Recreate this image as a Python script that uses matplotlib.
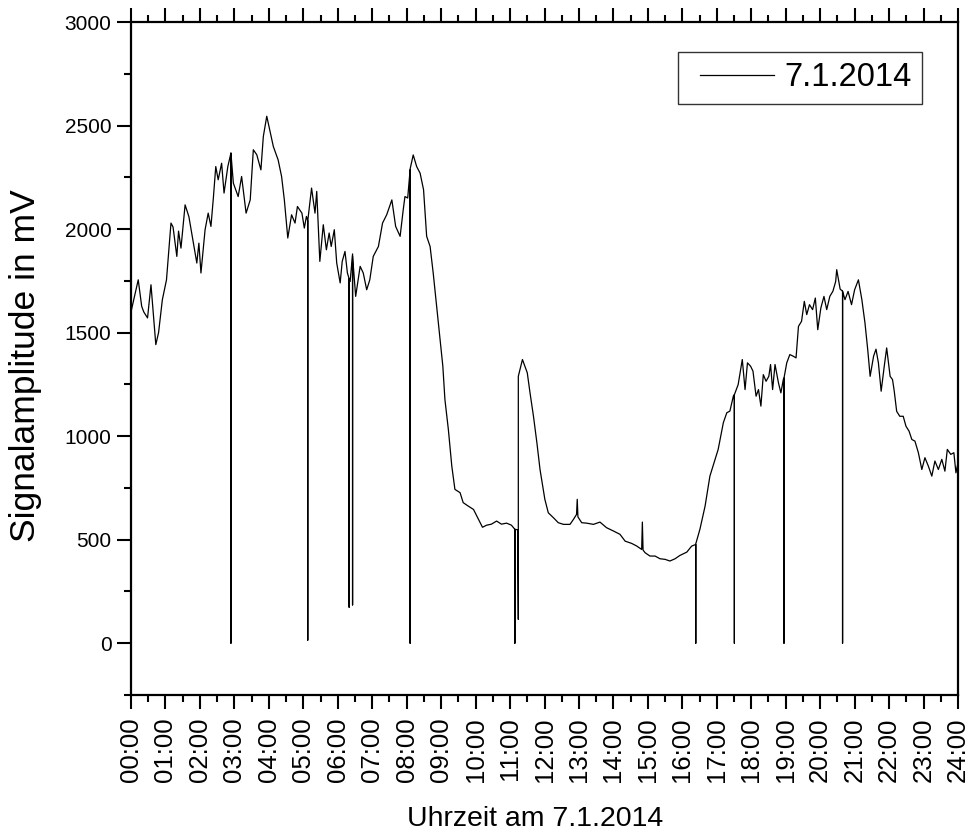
import matplotlib
matplotlib.use("Agg")
import numpy as np
import matplotlib.pyplot as plt
from matplotlib.ticker import MultipleLocator, FixedLocator, FixedFormatter
from matplotlib.legend_handler import HandlerLine2D

# time of day in hours, signal amplitude in mV (dropouts/spikes included inline)
hours = [
    0.00, 0.21, 0.31, 0.37, 0.48, 0.58, 0.72, 0.80, 0.91, 1.03,
    1.16, 1.22, 1.33, 1.38, 1.45, 1.57, 1.68, 1.76, 1.91, 1.97,
    2.03, 2.15, 2.24, 2.32, 2.39, 2.46, 2.53, 2.63, 2.70, 2.81,
    2.90, 2.90, 2.90, 2.97, 3.11, 3.21, 3.34, 3.46, 3.55, 3.65,
    3.77, 3.84, 3.94, 4.03, 4.13, 4.27, 4.37, 4.45, 4.55, 4.66,
    4.76, 4.83, 4.96, 5.03, 5.09, 5.13, 5.13, 5.13, 5.24, 5.34,
    5.39, 5.48, 5.58, 5.67, 5.75, 5.81, 5.90, 5.97, 6.07, 6.13,
    6.21, 6.28, 6.33, 6.33, 6.33, 6.36, 6.43, 6.43, 6.43, 6.52,
    6.65, 6.74, 6.84, 6.93, 7.03, 7.18, 7.30, 7.42, 7.57, 7.68,
    7.81, 7.90, 7.95, 8.03, 8.10, 8.10, 8.10, 8.19, 8.29, 8.39,
    8.49, 8.58, 8.68, 8.77, 8.87, 8.97, 9.05, 9.11, 9.21, 9.31,
    9.40, 9.55, 9.64, 9.78, 9.94, 10.08, 10.20, 10.32, 10.46, 10.61,
    10.75, 10.90, 11.04, 11.14, 11.14, 11.14, 11.22, 11.24, 11.24, 11.36,
    11.50, 11.58, 11.68, 11.78, 11.87, 12.01, 12.11, 12.26, 12.40, 12.55,
    12.74, 12.84, 12.93, 12.95, 12.97, 13.08, 13.22, 13.42, 13.61, 13.80,
    14.00, 14.19, 14.34, 14.53, 14.67, 14.82, 14.84, 14.86, 14.92, 15.06,
    15.21, 15.35, 15.50, 15.64, 15.79, 15.93, 16.13, 16.27, 16.39, 16.39,
    16.39, 16.51, 16.66, 16.80, 17.04, 17.19, 17.29, 17.38, 17.48, 17.51,
    17.51, 17.51, 17.62, 17.74, 17.82, 17.89, 17.98, 18.05, 18.14, 18.21,
    18.28, 18.35, 18.43, 18.51, 18.56, 18.62, 18.69, 18.79, 18.86, 18.93,
    18.95, 18.95, 18.95, 19.03, 19.12, 19.22, 19.30, 19.37, 19.46, 19.54,
    19.61, 19.69, 19.78, 19.86, 19.93, 20.02, 20.11, 20.19, 20.28, 20.37,
    20.45, 20.48, 20.58, 20.65, 20.65, 20.65, 20.72, 20.81, 20.91, 21.00,
    21.11, 21.21, 21.30, 21.38, 21.45, 21.55, 21.62, 21.69, 21.77, 21.86,
    21.93, 22.03, 22.10, 22.15, 22.22, 22.31, 22.41, 22.49, 22.58, 22.66,
    22.75, 22.85, 22.95, 23.04, 23.14, 23.24, 23.33, 23.43, 23.53, 23.62,
    23.69, 23.79, 23.88, 23.94, 24.00,
]
signal_mv = [
    1600, 1755, 1627, 1600, 1571, 1731, 1442, 1500, 1659, 1755,
    2029, 2010, 1868, 1990, 1908, 2117, 2060, 1981, 1836, 1932,
    1788, 1997, 2077, 2013, 2150, 2302, 2238, 2318, 2174, 2302,
    2367, 0, 2367, 2222, 2157, 2254, 2077, 2141, 2383, 2359,
    2286, 2447, 2545, 2475, 2399, 2334, 2254, 2141, 1957, 2069,
    2029, 2109, 2077, 2005, 2061, 2040, 15, 2040, 2198, 2077,
    2182, 1844, 2021, 1900, 1981, 1916, 1997, 1836, 1740, 1844,
    1892, 1788, 1760, 174, 1760, 1747, 1880, 185, 1870, 1675,
    1820, 1788, 1707, 1755, 1868, 1916, 2029, 2069, 2141, 2013,
    1965, 2093, 2157, 2150, 2286, 0, 2290, 2358, 2302, 2270,
    2190, 1965, 1916, 1788, 1627, 1466, 1337, 1177, 1032, 855,
    743, 727, 679, 663, 646, 600, 560, 570, 575, 590,
    575, 580, 570, 550, 0, 550, 548, 115, 1289, 1370,
    1306, 1209, 1096, 967, 839, 695, 630, 606, 582, 574,
    574, 598, 622, 695, 610, 582, 580, 574, 585, 558,
    542, 526, 493, 482, 470, 453, 585, 450, 437, 421,
    421, 408, 405, 397, 408, 424, 440, 469, 477, 0,
    480, 550, 662, 807, 936, 1065, 1113, 1121, 1193, 1200,
    0, 1200, 1249, 1370, 1225, 1354, 1338, 1314, 1193, 1225,
    1145, 1297, 1265, 1289, 1346, 1225, 1346, 1257, 1209, 1273,
    1280, 0, 1280, 1354, 1394, 1386, 1378, 1530, 1555, 1651,
    1587, 1635, 1611, 1667, 1514, 1619, 1675, 1611, 1675, 1700,
    1747, 1804, 1710, 1700, 0, 1700, 1659, 1699, 1635, 1707,
    1755, 1659, 1547, 1418, 1289, 1386, 1420, 1354, 1217, 1338,
    1426, 1289, 1273, 1217, 1120, 1096, 1096, 1048, 1024, 984,
    976, 920, 839, 896, 855, 807, 880, 839, 888, 831,
    936, 912, 920, 823, 871,
]

tick_hours = list(range(0, 25))
tick_labels = ["%02d:00" % h for h in tick_hours]
series_label = "7.1.2014"
x_title = "Uhrzeit am 7.1.2014"
y_title = "Signalamplitude in mV"


class OffsetLineHandler(HandlerLine2D):
    """Legend line that starts a little to the right inside its handle box."""
    def get_xdata(self, legend, xdescent, ydescent, width, height, fontsize):
        xdata, xmark = super().get_xdata(legend, xdescent, ydescent, width, height, fontsize)
        xdata = np.asarray(xdata, dtype=float).copy()
        xdata[0] = xdata[0] + 8.6
        return xdata, xmark


fig = plt.figure(figsize=(9.68, 8.31), dpi=100)
ax = fig.add_axes([131 / 968, 1 - 695 / 831, 827 / 968, 673 / 831])

line, = ax.plot(hours, signal_mv, color="black", lw=0.9, label=series_label)

ax.set_xlim(0, 24)
ax.set_ylim(-250, 3000)

ax.xaxis.set_major_locator(FixedLocator(tick_hours))
ax.xaxis.set_major_formatter(FixedFormatter(tick_labels))
ax.xaxis.set_minor_locator(MultipleLocator(0.5))
ax.yaxis.set_major_locator(MultipleLocator(500))
ax.yaxis.set_minor_locator(MultipleLocator(250))

for s in ax.spines.values():
    s.set_linewidth(1.6)

ax.tick_params(axis="both", which="both", direction="out", width=1.5)
ax.tick_params(axis="x", which="both", top=True, bottom=True)
ax.tick_params(axis="y", which="both", left=True, right=False)
ax.tick_params(which="major", length=10)
ax.tick_params(which="minor", length=5)
ax.tick_params(axis="x", which="major", labelsize=18.5, labelrotation=90, pad=6)
ax.tick_params(axis="y", which="major", labelsize=15, pad=4)
for lab in ax.get_xticklabels() + ax.get_yticklabels():
    lab.set_family("Liberation Sans")

ax.set_xlabel(x_title, fontsize=20.5, family="Liberation Sans", va="baseline")
ax.xaxis.set_label_coords(0.4885, -0.1947)
ax.set_ylabel(y_title, fontsize=25.5, family="Liberation Sans")
ax.yaxis.set_label_coords(-0.108, 0.489)

leg = ax.legend(handles=[line], loc="upper right", bbox_to_anchor=(0.9565, 0.955),
                prop={"family": "Liberation Sans", "size": 23.5},
                frameon=True, fancybox=False, handlelength=2.64,
                borderpad=0.31, handletextpad=0.31, borderaxespad=0,
                handler_map={line: OffsetLineHandler()})
leg.get_frame().set_edgecolor("black")
leg.get_frame().set_linewidth(1.0)

fig.savefig("out.png", dpi=100)
